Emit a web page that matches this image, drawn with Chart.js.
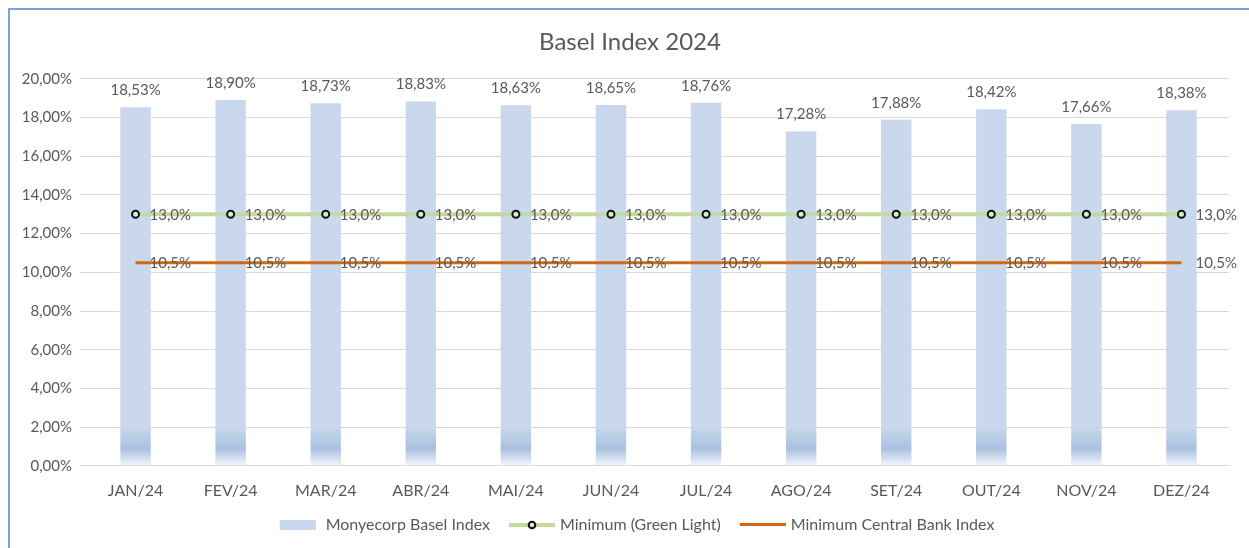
<!DOCTYPE html>
<html>
<head>
<meta charset="utf-8">
<script src="https://cdn.jsdelivr.net/npm/chart.js@4.4.1/dist/chart.umd.min.js"></script>
<style>
  html, body { margin: 0; padding: 0; background: #fff; }
  #wrap { position: relative; width: 1249px; height: 548px; }
  #frame { position: absolute; left: 8px; top: 8px; right: -4px; bottom: -4px; border-left: 2px solid #7FA0D8; border-top: 2px solid #7FA0D8; }
  canvas { position: absolute; left: 0; top: 0; }
</style>
</head>
<body>
<div id="wrap">
  <div id="frame"></div>
  <canvas id="chart" width="1249" height="548"></canvas>
</div>
<script>
const months = ['JAN/24', 'FEV/24', 'MAR/24', 'ABR/24', 'MAI/24', 'JUN/24', 'JUL/24', 'AGO/24', 'SET/24', 'OUT/24', 'NOV/24', 'DEZ/24'];
const baselIndex = [18.53, 18.90, 18.73, 18.83, 18.63, 18.65, 18.76, 17.28, 17.88, 18.42, 17.66, 18.38];
const greenLight = [13.0, 13.0, 13.0, 13.0, 13.0, 13.0, 13.0, 13.0, 13.0, 13.0, 13.0, 13.0];
const centralBank = [10.5, 10.5, 10.5, 10.5, 10.5, 10.5, 10.5, 10.5, 10.5, 10.5, 10.5, 10.5];

const FONT = 'Lato, "Liberation Sans", sans-serif';
const TEXT = '#595959';
const BAR = '#C9D8EC';
const GREEN = '#C4D99F';
const ORANGE = '#D06A12';

const pct = (v, d) => v.toFixed(d).replace('.', ',') + '%';

// little pictures for the legend (blank strip on the left = gap between items)
function icon(w, h, draw) {
    const c = document.createElement('canvas');
    c.width = w; c.height = h;
    draw(c.getContext('2d'));
    return c;
}
const icons = [
    icon(48, 10, g => { g.fillStyle = BAR; g.fillRect(12, 0, 36, 10); }),
    icon(58, 10, g => {
        g.strokeStyle = GREEN; g.lineWidth = 4;
        g.beginPath(); g.moveTo(12, 5); g.lineTo(58, 5); g.stroke();
        g.fillStyle = '#DDEBC8'; g.strokeStyle = '#111'; g.lineWidth = 2;
        g.beginPath(); g.arc(35, 5, 3.3, 0, Math.PI * 2); g.fill(); g.stroke();
    }),
    icon(58, 4, g => { g.fillStyle = ORANGE; g.fillRect(12, 0, 46, 3); })
];

// value labels
const valueLabels = {
    id: 'valueLabels',
    afterDatasetsDraw(chart) {
        const ctx = chart.ctx;
        ctx.save();
        ctx.font = '15px ' + FONT;
        ctx.fillStyle = TEXT;
        ctx.textBaseline = 'middle';
        chart.data.datasets.forEach((ds, i) => {
            const meta = chart.getDatasetMeta(i);
            meta.data.forEach((el, j) => {
                const v = ds.data[j];
                if (i === 0) {
                    ctx.textAlign = 'center';
                    ctx.fillText(pct(v, 2), el.x, el.y - 17);
                } else {
                    ctx.textAlign = 'left';
                    ctx.fillText(pct(v, 1), el.x + 14, el.y + 1);
                }
            });
        });
        ctx.restore();
    }
};

new Chart(document.getElementById('chart'), {
    data: {
        labels: months,
        datasets: [
            {
                type: 'bar',
                label: 'Monyecorp Basel Index',
                data: baselIndex,
                order: 3,
                barPercentage: 0.32,
                categoryPercentage: 1,
                backgroundColor: (c) => {
                    const chart = c.chart;
                    if (!chart.chartArea) return BAR;
                    const y = chart.scales.y;
                    const g = chart.ctx.createLinearGradient(0, y.getPixelForValue(0), 0, y.getPixelForValue(2));
                    g.addColorStop(0, '#F3F6FB');
                    g.addColorStop(0.45, '#A9C1DF');
                    g.addColorStop(1, BAR);
                    return g;
                }
            },
            {
                type: 'line',
                label: 'Minimum (Green Light)',
                data: greenLight,
                order: 1,
                borderColor: GREEN,
                borderWidth: 4,
                pointRadius: 3.5,
                pointBorderWidth: 2,
                pointBorderColor: '#111',
                pointBackgroundColor: '#DDEBC8'
            },
            {
                type: 'line',
                label: 'Minimum Central Bank Index',
                data: centralBank,
                order: 2,
                borderColor: ORANGE,
                borderWidth: 3,
                pointRadius: 0
            }
        ]
    },
    options: {
        responsive: false,
        animation: false,
        // title and legend are centred a bit right of the canvas middle
        layout: { padding: { left: 0, right: -11, top: 6, bottom: 5 } },
        plugins: {
            title: {
                display: true,
                text: 'Basel Index 2024',
                color: TEXT,
                font: { family: FONT, size: 24, weight: 'normal' },
                padding: { top: 22, bottom: 22 }
            },
            legend: {
                position: 'bottom',
                labels: {
                    usePointStyle: true,
                    pointStyleWidth: 52,
                    padding: 10,
                    color: TEXT,
                    font: { family: FONT, size: 16 },
                    generateLabels(chart) {
                        const items = Chart.defaults.plugins.legend.labels.generateLabels(chart);
                        items.forEach(it => { it.pointStyle = icons[it.datasetIndex]; });
                        return items.sort((a, b) => a.datasetIndex - b.datasetIndex);
                    }
                }
            },
            tooltip: { enabled: false }
        },
        scales: {
            x: {
                grid: { display: false },
                border: { color: '#D9D9D9' },
                ticks: { color: TEXT, font: { family: FONT, size: 16 }, padding: 7 }
            },
            y: {
                min: 0,
                max: 20,
                afterFit: s => { s.width = 88; },
                grid: { color: '#D9D9D9' },
                border: { display: false },
                ticks: {
                    stepSize: 2,
                    color: TEXT,
                    font: { family: FONT, size: 15 },
                    padding: 8,
                    callback: v => pct(v, 2)
                }
            },
            // empty spacer on the right
            yRight: {
                position: 'right',
                grid: { display: false },
                border: { display: false },
                ticks: { display: false },
                afterFit: s => { s.width = 31; }
            }
        }
    },
    plugins: [valueLabels]
});
</script>
</body>
</html>
